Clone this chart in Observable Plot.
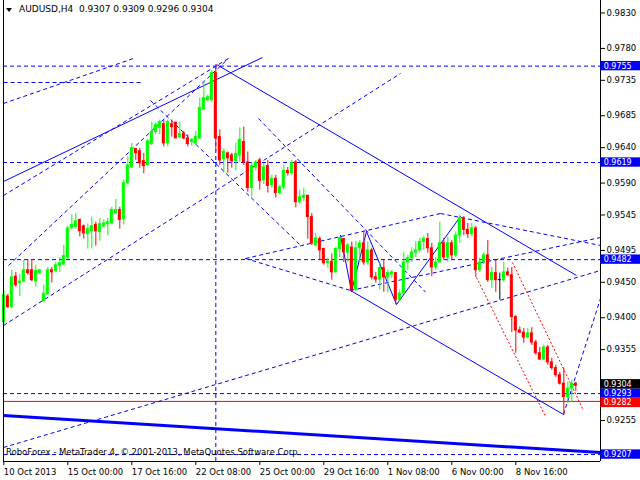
<!DOCTYPE html>
<html><head><meta charset="utf-8">
<script src="https://cdn.jsdelivr.net/npm/d3@7"></script>
<script src="https://cdn.jsdelivr.net/npm/@observablehq/plot@0.6"></script>
<style>
html,body{margin:0;padding:0;background:#fff;}
#chart{position:relative;width:640px;height:480px;overflow:hidden;background:#fff;}
#chart svg{display:block;}
</style></head><body><div id="chart"></div>
<script>
// ---- data (AUDUSD H4) ----
const opens  = [0.9394,0.9430,0.9415,0.9458,0.9449,0.9451,0.9467,0.9467,0.9451,0.9463,0.9423,0.9433,0.9467,0.9466,0.9473,0.9475,0.9485,0.9526,0.9528,0.9538,0.9529,0.9518,0.9522,0.9531,0.9521,0.9529,0.9532,0.9533,0.9547,0.9552,0.9539,0.9590,0.9612,0.9638,0.9635,0.9621,0.9615,0.9645,0.9662,0.9668,0.9673,0.9646,0.9673,0.9675,0.9655,0.9660,0.9653,0.9648,0.9646,0.9653,0.9694,0.9707,0.9707,0.9745,0.9655,0.9624,0.9632,0.9629,0.9621,0.9629,0.9648,0.9619,0.9583,0.9612,0.9622,0.9594,0.9614,0.9587,0.9596,0.9576,0.9584,0.9607,0.9604,0.9619,0.9563,0.9569,0.9572,0.9542,0.9502,0.9511,0.9497,0.9477,0.9479,0.9464,0.9497,0.9511,0.9492,0.9499,0.9440,0.9498,0.9505,0.9478,0.9495,0.9457,0.9454,0.9470,0.9457,0.9461,0.9463,0.9425,0.9434,0.9478,0.9484,0.9492,0.9495,0.9507,0.9511,0.9498,0.9471,0.9478,0.9505,0.9485,0.9505,0.9488,0.9516,0.9540,0.9524,0.9518,0.9526,0.9467,0.9478,0.9488,0.9453,0.9463,0.9453,0.9453,0.9464,0.9460,0.9401,0.9382,0.9379,0.9372,0.9378,0.9365,0.9350,0.9341,0.9358,0.9337,0.9329,0.9319,0.9307,0.9288,0.9300,0.9307];
const highs  = [0.9439,0.9433,0.9467,0.9464,0.9461,0.9481,0.9482,0.9482,0.9474,0.9468,0.9446,0.9471,0.9471,0.9478,0.9485,0.9502,0.9529,0.9545,0.9547,0.9539,0.9531,0.9532,0.9542,0.9535,0.9540,0.9538,0.9540,0.9556,0.9567,0.9556,0.9594,0.9627,0.9646,0.9639,0.9639,0.9632,0.9652,0.9676,0.9675,0.9679,0.9679,0.9679,0.9679,0.9676,0.9676,0.9663,0.9658,0.9653,0.9663,0.9710,0.9733,0.9714,0.9749,0.9757,0.9665,0.9638,0.9634,0.9632,0.9646,0.9668,0.9669,0.9634,0.9619,0.9622,0.9625,0.9618,0.9622,0.9601,0.9601,0.9587,0.9615,0.9612,0.9622,0.9622,0.9580,0.9583,0.9573,0.9547,0.9519,0.9514,0.9498,0.9484,0.9490,0.9499,0.9514,0.9512,0.9505,0.9507,0.9508,0.9509,0.9522,0.9507,0.9498,0.9464,0.9477,0.9481,0.9467,0.9467,0.9464,0.9439,0.9492,0.9488,0.9499,0.9507,0.9512,0.9515,0.9519,0.9505,0.9485,0.9535,0.9512,0.9514,0.9509,0.9521,0.9545,0.9543,0.9533,0.9533,0.9529,0.9484,0.9492,0.9509,0.9471,0.9481,0.9463,0.9478,0.9470,0.9471,0.9403,0.9387,0.9385,0.9385,0.9386,0.9368,0.9358,0.9361,0.9361,0.9343,0.9333,0.9323,0.9329,0.9309,0.9312,0.9309];
const lows   = [0.9388,0.9413,0.9413,0.9443,0.9430,0.9449,0.9460,0.9451,0.9443,0.9461,0.9422,0.9432,0.9449,0.9463,0.9464,0.9474,0.9482,0.9525,0.9525,0.9514,0.9511,0.9497,0.9497,0.9501,0.9508,0.9526,0.9516,0.9531,0.9546,0.9525,0.9531,0.9588,0.9611,0.9622,0.9611,0.9603,0.9614,0.9643,0.9658,0.9658,0.9641,0.9641,0.9655,0.9653,0.9653,0.9651,0.9641,0.9642,0.9643,0.9651,0.9693,0.9704,0.9704,0.9634,0.9615,0.9604,0.9604,0.9611,0.9607,0.9619,0.9615,0.9577,0.9570,0.9607,0.9580,0.9588,0.9576,0.9583,0.9569,0.9573,0.9580,0.9600,0.9601,0.9555,0.9560,0.9564,0.9511,0.9502,0.9501,0.9481,0.9474,0.9470,0.9453,0.9463,0.9485,0.9478,0.9478,0.9437,0.9437,0.9478,0.9474,0.9474,0.9453,0.9449,0.9439,0.9436,0.9435,0.9455,0.9418,0.9423,0.9433,0.9467,0.9478,0.9485,0.9491,0.9495,0.9491,0.9458,0.9467,0.9477,0.9481,0.9478,0.9482,0.9485,0.9505,0.9516,0.9512,0.9514,0.9457,0.9464,0.9475,0.9450,0.9441,0.9436,0.9425,0.9450,0.9458,0.9379,0.9350,0.9378,0.9364,0.9371,0.9361,0.9347,0.9340,0.9340,0.9333,0.9326,0.9316,0.9305,0.9262,0.9279,0.9280,0.9296];
const closes = [0.9432,0.9415,0.9457,0.9446,0.9451,0.9467,0.9463,0.9453,0.9466,0.9467,0.9434,0.9467,0.9464,0.9474,0.9477,0.9487,0.9526,0.9531,0.9536,0.9522,0.9519,0.9525,0.9529,0.9522,0.9532,0.9533,0.9535,0.9552,0.9552,0.9538,0.9590,0.9615,0.9639,0.9632,0.9618,0.9614,0.9649,0.9662,0.9672,0.9676,0.9646,0.9676,0.9669,0.9653,0.9659,0.9653,0.9645,0.9651,0.9655,0.9696,0.9710,0.9711,0.9745,0.9653,0.9622,0.9634,0.9625,0.9621,0.9631,0.9651,0.9619,0.9583,0.9614,0.9619,0.9593,0.9612,0.9586,0.9596,0.9576,0.9584,0.9607,0.9604,0.9618,0.9563,0.9570,0.9572,0.9542,0.9505,0.9512,0.9495,0.9477,0.9479,0.9464,0.9497,0.9512,0.9492,0.9502,0.9439,0.9498,0.9505,0.9478,0.9495,0.9457,0.9454,0.9470,0.9457,0.9463,0.9464,0.9425,0.9434,0.9478,0.9484,0.9492,0.9495,0.9507,0.9511,0.9498,0.9471,0.9478,0.9505,0.9485,0.9505,0.9488,0.9516,0.9540,0.9524,0.9518,0.9526,0.9467,0.9478,0.9488,0.9453,0.9463,0.9453,0.9453,0.9464,0.9460,0.9401,0.9382,0.9379,0.9372,0.9378,0.9365,0.9350,0.9341,0.9358,0.9337,0.9329,0.9319,0.9307,0.9288,0.9300,0.9307,0.9304];

const timeLabels = ["10 Oct 2013","15 Oct 00:00","17 Oct 16:00","22 Oct 08:00","25 Oct 00:00","29 Oct 16:00","1 Nov 08:00","6 Nov 00:00","8 Nov 16:00"];
const timeLabelBars = [0,16,32,48,64,80,96,112,128];
// the 0.9305 tick sits under the last-price tag in the reference, so it is not listed
const priceTicks = [0.9830,0.9780,0.9735,0.9685,0.9640,0.9590,0.9545,0.9495,0.9450,0.9400,0.9355,0.9255];

// horizontal price levels (dashed) and right-hand price tags
const levelPrices = [0.9755,0.9619,0.9482,0.9207,0.9293];
const tagPrices = [0.9207,0.9482,0.9619,0.9755,0.9293,0.9282,0.9304];
const tagColors = ["#0000ff","#0000ff","#0000ff","#0000ff","#0000ff","#ff0000","#000000"];
const bidLine = 0.9282;
const peakBar = 53;

// drawn trendlines: [bar1, price1, bar2, price2]
const solidLines = [
  [-0.08,0.95922,64.67,0.97672],
  [53.17,0.97573,143.17,0.94596],
  [86.67,0.94385,139.92,0.92635]
];
const zigzagBars   = [84.17,86.92,90.67,98.17,114.17];
const zigzagPrices = [0.95161,0.94371,0.95217,0.94187,0.95429];
const thickLine = [-0.08,0.92621,149.17,0.92099];
const dashedLines = [
  [-0.08,0.97023,32.42,0.97658],
  [-0.08,0.97319,34.17,0.97319],
  [1.17,0.94737,56.17,0.97658],
  [-0.08,0.95725,56.17,0.97658],
  [-0.08,0.93891,99.17,0.97446],
  [-0.08,0.92170,149.17,0.94667],
  [86.67,0.94385,149.17,0.95132],
  [139.92,0.92635,149.17,0.94272],
  [60.42,0.94836,109.17,0.95471],
  [109.17,0.95471,149.17,0.95020],
  [60.42,0.94836,86.67,0.94385],
  [36.67,0.97065,74.17,0.95022],
  [63.67,0.96811,105.42,0.94363]
];
const redDotted = [
  [118.17,0.94568,135.42,0.92607],
  [127.17,0.94780,144.92,0.92692]
];

// ---- build ----
const bars = opens.map((o,i)=>({i,o,h:highs[i],l:lows[i],c:closes[i],
  col: closes[i]>o ? "#00ff00" : closes[i]<o ? "#ff0000" : "#000000"}));
const seg = a => a.map(([x1,y1,x2,y2])=>({x1,y1,x2,y2}));
const zig = zigzagBars.map((b,i)=>({b,p:zigzagPrices[i]}));
const xMin=-0.0825, xMax=149.17, yMin=0.91972, yMax=0.98476;
const font = "DejaVu Sans, sans-serif";
const tags = tagPrices.map((p,i)=>({p,c:tagColors[i],t:p.toFixed(4)}));
const half = 0.00066;
const lastTag = tags.filter(d=>d.t==="0.9304");
const lowTag = tags.filter(d=>d.t==="0.9282");
const otherTags = tags.filter(d=>d.t!=="0.9304" && d.t!=="0.9282");
const tagRect = (data,dy)=>Plot.rect(data,{x1:xMax+0.1,x2:xMax+11,y1:d=>d.p-half,y2:d=>d.p+half,fill:"c",dy,clip:false});
const tagText = (data,dy)=>Plot.text(data,{x:xMax+0.8,y:"p",text:"t",fill:"#fff",textAnchor:"start",fontSize:"8px",fontFamily:font,dy,clip:false});

const chart = Plot.plot({
  width:640, height:480,
  marginLeft:3, marginRight:40, marginTop:0, marginBottom:19,
  style:{fontFamily:font, fontSize:"8.5px", background:"#fff", color:"#000"},
  x:{domain:[xMin,xMax], axis:null},
  y:{domain:[yMin,yMax], axis:null},
  marks:[
    Plot.ruleY(levelPrices,{stroke:"#0000ff", strokeDasharray:"4,3", strokeWidth:1}),
    Plot.ruleY([bidLine],{stroke:"#ff0000", strokeWidth:1}),
    Plot.ruleX([peakBar],{y1:yMin,y2:0.9755,stroke:"#0000ff",strokeDasharray:"4,3"}),
    Plot.link(seg(dashedLines),{x1:"x1",y1:"y1",x2:"x2",y2:"y2",stroke:"#0000ff",strokeDasharray:"4,3",strokeWidth:1}),
    Plot.link(seg(solidLines),{x1:"x1",y1:"y1",x2:"x2",y2:"y2",stroke:"#0000ff",strokeWidth:1}),
    Plot.line(zig,{x:"b",y:"p",stroke:"#0000ff",strokeWidth:1}),
    Plot.link(seg([thickLine]),{x1:"x1",y1:"y1",x2:"x2",y2:"y2",stroke:"#0000ff",strokeWidth:3}),
    Plot.link(seg(redDotted),{x1:"x1",y1:"y1",x2:"x2",y2:"y2",stroke:"#ff0000",strokeDasharray:"2,2",strokeWidth:1}),
    Plot.ruleX(bars,{x:"i",y1:"l",y2:"h",stroke:"col",strokeWidth:1}),
    Plot.rect(bars,{x1:d=>d.i-0.375,x2:d=>d.i+0.375,y1:d=>Math.min(d.o,d.c),y2:d=>Math.max(d.o,d.c),fill:"col",insetTop:-0.5,insetBottom:-0.5}),
    Plot.ruleX([xMin,xMax],{stroke:"#000",strokeWidth:1}),
    Plot.ruleY([yMin],{stroke:"#000",strokeWidth:1}),
    Plot.axisY({anchor:"right",ticks:priceTicks,tickFormat:d=>d.toFixed(4),tickSize:4,tickPadding:2,stroke:"#000",fill:"#000",fontSize:"8.5px",fontFamily:font}),
    Plot.axisX({ticks:timeLabelBars,tickFormat:i=>timeLabels[timeLabelBars.indexOf(i)],tickSize:4,tickPadding:3,textAnchor:"start",dx:0,stroke:"#000",fill:"#000",fontSize:"8.5px",fontFamily:font}),
    tagRect(otherTags,0), tagText(otherTags,0),
    tagRect(lowTag,1.5), tagText(lowTag,1.5),
    tagRect(lastTag,-1.5), tagText(lastTag,-1.5)
  ]
});
document.getElementById("chart").appendChild(chart);

const title = document.createElement("div");
title.innerHTML = '<span style="display:inline-block;width:0;height:0;border-left:3px solid transparent;border-right:3px solid transparent;border-top:4px solid #000;margin-right:7px;vertical-align:middle"></span>AUDUSD,H4&nbsp;&nbsp;0.9307 0.9309 0.9296 0.9304';
title.style.cssText = "position:absolute;left:6px;top:4px;font:9px 'DejaVu Sans',sans-serif;color:#000;white-space:pre;";
document.getElementById("chart").appendChild(title);
const foot = document.createElement("div");
foot.textContent = "RoboForex - MetaTrader 4, \u00a9 2001-2013, MetaQuotes Software Corp.";
foot.style.cssText = "position:absolute;left:6px;top:447px;font:8.5px 'DejaVu Sans',sans-serif;color:#000;white-space:pre;";
document.getElementById("chart").appendChild(foot);
</script></body></html>
